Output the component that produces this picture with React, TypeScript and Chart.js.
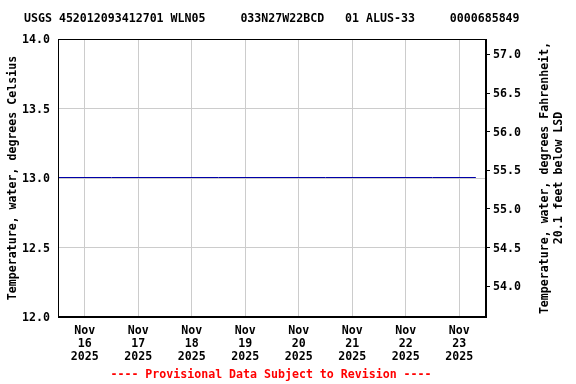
import React, { useEffect, useRef } from "react";
import { Chart, registerables } from "chart.js";

Chart.register(...registerables);

const titleText = "USGS 452012093412701 WLN05     033N27W22BCD   01 ALUS-33     0000685849";
const leftAxisTitle = "Temperature, water, degrees Celsius";
const rightAxisTitle1 = "Temperature, water, degrees Fahrenheit,";
const rightAxisTitle2 = "20.1 feet below LSD";
const footerText = "---- Provisional Data Subject to Revision ----";

// time in days relative to Nov 16 2025 00:00
const times = [-0.5, 0.5, 1.5, 2.5, 3.5, 4.5, 5.5, 6.5, 7.31];
const tempC = [13.0, 13.0, 13.0, 13.0, 13.0, 13.0, 13.0, 13.0, 13.0];

const xTickValues = [0, 1, 2, 3, 4, 5, 6, 7];
const xTickLabels = [
  ["Nov", "16", "2025"],
  ["Nov", "17", "2025"],
  ["Nov", "18", "2025"],
  ["Nov", "19", "2025"],
  ["Nov", "20", "2025"],
  ["Nov", "21", "2025"],
  ["Nov", "22", "2025"],
  ["Nov", "23", "2025"],
];
const leftTicks = [12.0, 12.5, 13.0, 13.5, 14.0];
const rightTicks = [54.0, 54.5, 55.0, 55.5, 56.0, 56.5, 57.0];

const FONT = "'DejaVu Sans Mono', monospace";
const FS = 11.6;

const textPlugin = {
  id: "usgsText",
  beforeDraw(chart: any) {
    const ctx = chart.ctx;
    ctx.save();
    ctx.fillStyle = "#ffffff";
    ctx.fillRect(0, 0, chart.width, chart.height);
    ctx.restore();
  },
  beforeDatasetsDraw(chart: any) {
    chart.ctx.save();
    chart.ctx.translate(0, -0.5);
  },
  afterDatasetsDraw(chart: any) {
    chart.ctx.restore();
  },
  afterDraw(chart: any) {
    const ctx = chart.ctx;
    const a = chart.chartArea;
    ctx.save();
    ctx.strokeStyle = "#000000";
    ctx.lineWidth = 1;
    ctx.strokeRect(Math.round(a.left) + 0.5, Math.round(a.top) + 0.5, Math.round(a.right - a.left) - 1, Math.round(a.bottom - a.top) - 1);
    ctx.fillStyle = "#000000";
    ctx.font = `bold ${FS}px ${FONT}`;
    ctx.textBaseline = "middle";
    ctx.textAlign = "left";
    ctx.fillText(titleText, 24, 19);
    const cy = (a.top + a.bottom) / 2;
    ctx.textAlign = "center";
    ctx.save();
    ctx.translate(13, cy);
    ctx.rotate(-Math.PI / 2);
    ctx.fillText(leftAxisTitle, 0, 0);
    ctx.restore();
    ctx.save();
    ctx.translate(545, cy);
    ctx.rotate(-Math.PI / 2);
    ctx.fillText(rightAxisTitle1, 0, 0);
    ctx.fillText(rightAxisTitle2, 0, 14);
    ctx.restore();
    ctx.fillStyle = "#ff0000";
    ctx.fillText(footerText, 271, 375);
    ctx.restore();
  },
};

export default function App() {
  const ref = useRef<HTMLCanvasElement>(null);
  useEffect(() => {
    document.body.style.margin = "0";
    const canvas = ref.current!;
    const chart = new Chart(canvas, {
      type: "line",
      data: {
        datasets: [
          {
            data: times.map((t, i) => ({ x: t, y: tempC[i] })),
            borderColor: "#0000a8",
            borderWidth: 1,
            pointRadius: 0,
            fill: false,
            tension: 0,
            yAxisID: "y",
          },
        ],
      },
      options: {
        animation: false,
        responsive: false,
        devicePixelRatio: 1,
        layout: { padding: { top: 39, left: 0, right: 0, bottom: 0 } },
        plugins: { legend: { display: false }, tooltip: { enabled: false }, title: { display: false } },
        scales: {
          x: {
            type: "linear",
            position: "bottom",
            min: -0.5,
            max: 7.5,
            afterBuildTicks: (s: any) => {
              s.ticks = xTickValues.map((v) => ({ value: v }));
            },
            afterFit: (s: any) => {
              s.height = 67;
            },
            ticks: {
              autoSkip: false,
              maxRotation: 0,
              padding: 7,
              color: "#000",
              font: { family: FONT, size: FS, weight: "bold", lineHeight: "13px" },
              callback: (v: any) => {
                const i = xTickValues.indexOf(Number(v));
                return i >= 0 ? xTickLabels[i] : "";
              },
            },
            grid: { color: "#cccccc", drawTicks: false, lineWidth: 1 },
            border: { display: true, color: "#000" },
          },
          y: {
            type: "linear",
            position: "left",
            min: 12,
            max: 14,
            afterBuildTicks: (s: any) => {
              s.ticks = leftTicks.map((v) => ({ value: v }));
            },
            afterFit: (s: any) => {
              s.width = 58;
            },
            ticks: {
              padding: 8,
              labelOffset: 1,
              color: "#000",
              font: { family: FONT, size: FS, weight: "bold" },
              callback: (v: any) => Number(v).toFixed(1),
            },
            grid: { color: "#cccccc", drawTicks: false },
            border: { display: true, color: "#000" },
          },
          y2: {
            type: "linear",
            position: "right",
            min: 53.6,
            max: 57.2,
            afterBuildTicks: (s: any) => {
              s.ticks = rightTicks.map((v) => ({ value: v }));
            },
            afterFit: (s: any) => {
              s.width = 90;
            },
            ticks: {
              padding: 3,
              labelOffset: 1,
              color: "#000",
              font: { family: FONT, size: FS, weight: "bold" },
              callback: (v: any) => Number(v).toFixed(1),
            },
            grid: { drawOnChartArea: false, drawTicks: true, tickLength: 4, color: "#000" },
            border: { display: true, color: "#000" },
          },
        },
      } as any,
      plugins: [textPlugin],
    });
    return () => chart.destroy();
  }, []);
  return (
    <div style={{ position: "absolute", left: 0, top: 0, width: 576, height: 384 }}>
      <canvas ref={ref} width={576} height={384} style={{ width: 576, height: 384 }} />
    </div>
  );
}
